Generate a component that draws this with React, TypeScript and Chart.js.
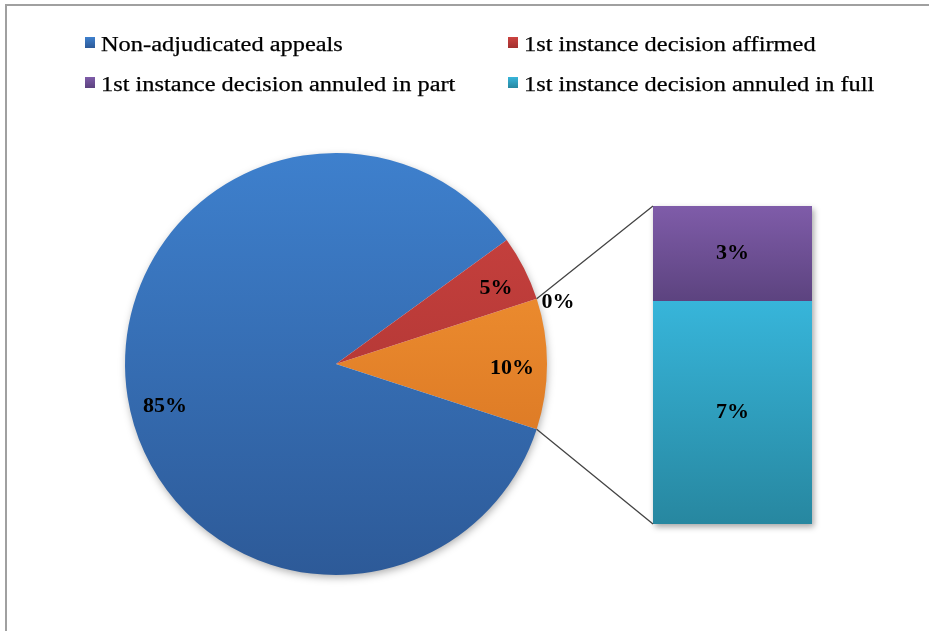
import React, { useEffect, useRef } from 'react';
import { Chart, registerables } from 'chart.js';

Chart.register(...registerables);

// ---- data ----
const legendLabels = [
  'Non-adjudicated appeals',
  '1st instance decision affirmed',
  '1st instance decision annuled in part',
  '1st instance decision annuled in full',
];
// pie: first slice is the "other" slice that is split out into the bar
const pieLabels = ['Other', 'Non-adjudicated appeals', '1st instance decision affirmed', ''];
const pieMainValues = [85, 5, 0];
// bar (stacked from bottom): annuled in full, annuled in part
const barLabels = ['1st instance decision annuled in full', '1st instance decision annuled in part'];
const barValues = [7, 3];

// ---- styles ----
const pieColors: [string, string][] = [
  ['#f99a36', '#d06c1e'],
  ['#3e80cd', '#2d5a98'],
  ['#cc4340', '#a2302e'],
  ['#cc4340', '#a2302e'],
];
const barColors: [string, string][] = [
  ['#37b5da', '#2787a0'],
  ['#7f5ca9', '#5c437f'],
];
const legendColors: [string, string][] = [
  ['#3e80cd', '#2d5a98'],
  ['#cc4340', '#a2302e'],
  ['#7f5ca9', '#5c437f'],
  ['#37b5da', '#2787a0'],
];
// label placement: radius fraction and angle tweak (degrees)
const pieLabelPlacement = [
  { r: 0.834, a: 1.3 },
  { r: 0.835, a: -4.8 },
  { r: 0.84, a: 1.6 },
  { r: 1.092, a: 2.4 },
];
const W = 929;
const H = 631;
const labelFont = 'bold 22px "Liberation Serif", "Times New Roman", serif';

const otherValue = barValues.reduce((a, b) => a + b, 0);
const pieValues = [otherValue, ...pieMainValues];

export default function App() {
  const pieRef = useRef<HTMLCanvasElement | null>(null);
  const barRef = useRef<HTMLCanvasElement | null>(null);

  useEffect(() => {
    if (!pieRef.current || !barRef.current) return;

    const pieChart = new Chart(pieRef.current, {
      type: 'pie',
      data: {
        labels: pieLabels,
        datasets: [
          {
            data: pieValues,
            borderWidth: 0,
            backgroundColor: (ctx: any) => {
              const chart = ctx.chart;
              const area = chart.chartArea;
              const c = pieColors[ctx.dataIndex] || pieColors[0];
              if (!area) return c[0];
              const g = chart.ctx.createLinearGradient(0, area.top, 0, area.bottom);
              g.addColorStop(0, c[0]);
              g.addColorStop(1, c[1]);
              return g;
            },
          },
        ],
      },
      options: {
        animation: false,
        responsive: false,
        rotation: 72,
        layout: { padding: { left: 125, right: 382, top: 153, bottom: 56 } },
        plugins: { legend: { display: false }, tooltip: { enabled: false } },
      },
      plugins: [
        {
          id: 'pieShadowLabels',
          beforeDatasetsDraw(chart: any) {
            const arc = chart.getDatasetMeta(0).data[0];
            if (!arc) return;
            const ctx = chart.ctx;
            ctx.save();
            ctx.shadowColor = 'rgba(0,0,0,0.35)';
            ctx.shadowBlur = 8;
            ctx.shadowOffsetX = 1;
            ctx.shadowOffsetY = 3;
            ctx.beginPath();
            ctx.arc(arc.x, arc.y, arc.outerRadius - 1, 0, Math.PI * 2);
            ctx.fillStyle = '#ffffff';
            ctx.fill();
            ctx.restore();
          },
          afterDatasetsDraw(chart: any) {
            const meta = chart.getDatasetMeta(0);
            const ctx = chart.ctx;
            ctx.save();
            ctx.font = labelFont;
            ctx.fillStyle = '#000';
            ctx.textAlign = 'center';
            ctx.textBaseline = 'middle';
            meta.data.forEach((arc: any, i: number) => {
              const p = pieLabelPlacement[i];
              const mid = (arc.startAngle + arc.endAngle) / 2 + (p.a * Math.PI) / 180;
              const r = arc.outerRadius * p.r;
              const x = arc.x + r * Math.cos(mid);
              const y = arc.y + r * Math.sin(mid);
              ctx.fillText(Math.round(pieValues[i]) + '%', x, y);
            });
            ctx.restore();
          },
        },
      ],
    } as any);

    const barChart = new Chart(barRef.current, {
      type: 'bar',
      data: {
        labels: [''],
        datasets: barValues.map((v, i) => ({
          label: barLabels[i],
          data: [v],
          borderWidth: 0,
          barPercentage: 1,
          categoryPercentage: 1,
          backgroundColor: (ctx: any) => {
            const chart = ctx.chart;
            const c = barColors[i];
            const y = chart.scales && chart.scales.y;
            if (!chart.chartArea || !y) return c[0];
            const start = barValues.slice(0, i).reduce((a, b) => a + b, 0);
            const top = y.getPixelForValue(start + v);
            const bottom = y.getPixelForValue(start);
            const g = chart.ctx.createLinearGradient(0, top, 0, bottom);
            g.addColorStop(0, c[0]);
            g.addColorStop(1, c[1]);
            return g;
          },
        })),
      },
      options: {
        animation: false,
        responsive: false,
        layout: { padding: { left: 653, right: 117, top: 206, bottom: 107 } },
        plugins: { legend: { display: false }, tooltip: { enabled: false } },
        scales: {
          x: { stacked: true, display: false },
          y: { stacked: true, display: false, min: 0, max: otherValue },
        },
      },
      plugins: [
        {
          id: 'barExtras',
          beforeDatasetsDraw(chart: any) {
            const bottomEl = chart.getDatasetMeta(0).data[0];
            const topEl = chart.getDatasetMeta(barValues.length - 1).data[0];
            if (!bottomEl || !topEl) return;
            const ctx = chart.ctx;
            const left = bottomEl.x - bottomEl.width / 2;
            ctx.save();
            ctx.shadowColor = 'rgba(0,0,0,0.35)';
            ctx.shadowBlur = 6;
            ctx.shadowOffsetX = 2;
            ctx.shadowOffsetY = 3;
            ctx.fillStyle = '#ffffff';
            ctx.fillRect(left, topEl.y, bottomEl.width, bottomEl.base - topEl.y);
            ctx.restore();
          },
          afterDatasetsDraw(chart: any) {
            const ctx = chart.ctx;
            ctx.save();
            ctx.font = labelFont;
            ctx.fillStyle = '#000';
            ctx.textAlign = 'center';
            ctx.textBaseline = 'middle';
            barValues.forEach((v, i) => {
              const el = chart.getDatasetMeta(i).data[0];
              ctx.fillText(Math.round(v) + '%', el.x, (el.y + el.base) / 2);
            });
            // connector lines to the pie's split-out slice
            const arc = pieChart.getDatasetMeta(0).data[0] as any;
            const bottomEl = chart.getDatasetMeta(0).data[0];
            const topEl = chart.getDatasetMeta(barValues.length - 1).data[0];
            if (arc && bottomEl && topEl) {
              const R = arc.outerRadius;
              const left = bottomEl.x - bottomEl.width / 2;
              ctx.strokeStyle = '#444444';
              ctx.lineWidth = 1.3;
              ctx.beginPath();
              ctx.moveTo(arc.x + R * Math.cos(arc.startAngle), arc.y + R * Math.sin(arc.startAngle));
              ctx.lineTo(left, topEl.y);
              ctx.moveTo(arc.x + R * Math.cos(arc.endAngle), arc.y + R * Math.sin(arc.endAngle));
              ctx.lineTo(left, bottomEl.base);
              ctx.stroke();
            }
            ctx.restore();
          },
        },
      ],
    } as any);

    return () => {
      barChart.destroy();
      pieChart.destroy();
    };
  }, []);

  const legendPos = [
    { x: 85, y: 37 },
    { x: 508, y: 37 },
    { x: 85, y: 77 },
    { x: 508, y: 77 },
  ];

  return (
    <div
      style={{
        position: 'fixed',
        left: 0,
        top: 0,
        width: W,
        height: H,
        background: '#ffffff',
        overflow: 'hidden',
      }}
    >
      <div
        style={{
          position: 'absolute',
          left: 5,
          top: 4,
          width: W,
          height: H,
          borderLeft: '2px solid #a0a0a0',
          borderTop: '2px solid #a0a0a0',
        }}
      />
      <canvas ref={pieRef} width={W} height={H} style={{ position: 'absolute', left: 0, top: 0, width: W, height: H }} />
      <canvas ref={barRef} width={W} height={H} style={{ position: 'absolute', left: 0, top: 0, width: W, height: H }} />
      {legendLabels.map((t, i) => (
        <div key={i}>
          <div
            style={{
              position: 'absolute',
              left: legendPos[i].x,
              top: legendPos[i].y,
              width: 10,
              height: 11,
              background: `linear-gradient(${legendColors[i][0]}, ${legendColors[i][1]})`,
            }}
          />
          <div
            style={{
              position: 'absolute',
              left: legendPos[i].x + 16,
              top: legendPos[i].y - 3,
              fontFamily: '"Liberation Serif", "Times New Roman", serif',
              fontSize: 20,
              lineHeight: '20px',
              whiteSpace: 'nowrap',
              color: '#000',
              transform: 'scaleX(1.22)',
              transformOrigin: 'left center',
              WebkitTextStroke: '0.25px #000',
            }}
          >
            {t}
          </div>
        </div>
      ))}
    </div>
  );
}
